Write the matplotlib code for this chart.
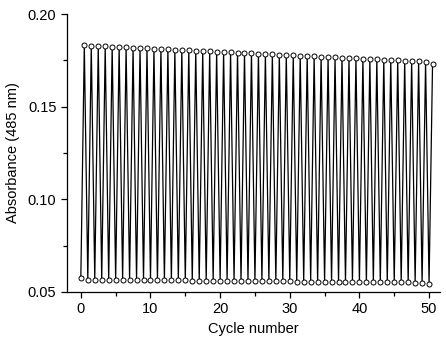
import numpy as np
import matplotlib
matplotlib.use("Agg")
import matplotlib.pyplot as plt
from matplotlib.ticker import MultipleLocator

plt.rcParams['font.family'] = ['Liberation Sans', 'DejaVu Sans']

# absorbance after each half cycle (top = coloured state, bottom = bleached state)
top_abs = [0.1830, 0.1829, 0.1827, 0.1825, 0.1824, 0.1822, 0.1820, 0.1818, 0.1816, 0.1815,
           0.1813, 0.1811, 0.1809, 0.1807, 0.1806, 0.1804, 0.1802, 0.1800, 0.1798, 0.1797,
           0.1795, 0.1793, 0.1791, 0.1789, 0.1788, 0.1786, 0.1784, 0.1782, 0.1780, 0.1779,
           0.1777, 0.1775, 0.1773, 0.1771, 0.1770, 0.1768, 0.1766, 0.1764, 0.1762, 0.1761,
           0.1759, 0.1757, 0.1755, 0.1753, 0.1752, 0.1750, 0.1748, 0.1746, 0.1744, 0.1741,
           0.1731]
bottom_abs = [0.0575, 0.0566, 0.0566, 0.0566, 0.0565, 0.0565, 0.0565, 0.0564, 0.0564, 0.0564,
              0.0563, 0.0563, 0.0563, 0.0562, 0.0562, 0.0562, 0.0561, 0.0561, 0.0561, 0.0560,
              0.0560, 0.0560, 0.0559, 0.0559, 0.0559, 0.0558, 0.0558, 0.0558, 0.0557, 0.0557,
              0.0557, 0.0556, 0.0556, 0.0556, 0.0555, 0.0555, 0.0555, 0.0554, 0.0554, 0.0554,
              0.0553, 0.0553, 0.0553, 0.0552, 0.0552, 0.0552, 0.0551, 0.0551, 0.0550, 0.0547,
              0.0545]

# interleave bottom (integer cycles) and top (half cycles)
cycle = []
absorb = []
for i in range(len(bottom_abs)):
    cycle += [i, i + 0.5]
    absorb += [bottom_abs[i], top_abs[i]]

fig = plt.figure(figsize=(4.46, 3.5), dpi=100)
ax = fig.add_axes([0.150, 0.166, 0.837, 0.794])
ax.plot(cycle, absorb, color='black', lw=0.9, marker='o', ms=3.6,
        mfc='white', mec='black', mew=0.7)

ax.set_xlim(-2, 51.6)
ax.set_ylim(0.05, 0.20)
ax.xaxis.set_major_locator(MultipleLocator(10))
ax.xaxis.set_minor_locator(MultipleLocator(5))
ax.yaxis.set_major_locator(MultipleLocator(0.05))
ax.yaxis.set_minor_locator(MultipleLocator(0.025))
ax.yaxis.set_major_formatter(plt.FormatStrFormatter('%.2f'))

for s in ['top', 'right']:
    ax.spines[s].set_visible(False)
for s in ['left', 'bottom']:
    ax.spines[s].set_linewidth(0.9)
ax.tick_params(which='both', direction='out', width=0.9, labelsize=10.5)
ax.tick_params(which='major', length=4)
ax.tick_params(which='minor', length=3)

ax.set_xlabel('Cycle number', fontsize=10.5, labelpad=4)
ax.set_ylabel('Absorbance (485 nm)', fontsize=10.5, labelpad=6)

fig.savefig('out.png', dpi=100)
